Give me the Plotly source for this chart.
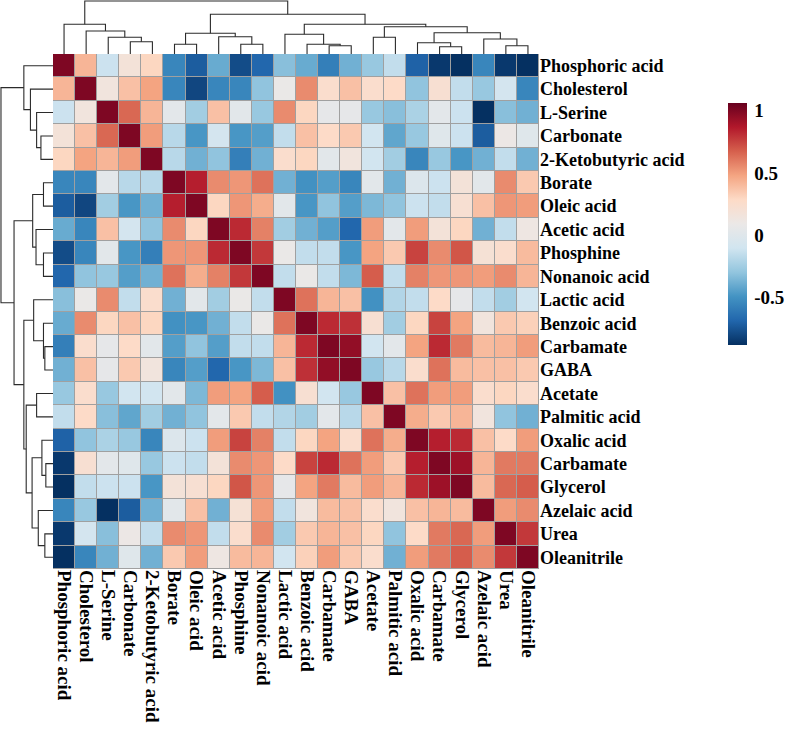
import numpy as np
import plotly.graph_objects as go

# ----------------------------------------------------
# Data
# ----------------------------------------------------
labels = [
    "Phosphoric acid", "Cholesterol", "L-Serine", "Carbonate", "2-Ketobutyric acid",
    "Borate", "Oleic acid", "Acetic acid", "Phosphine", "Nonanoic acid",
    "Lactic acid", "Benzoic acid", "Carbamate", "GABA", "Acetate",
    "Palmitic acid", "Oxalic acid", "Carbamate", "Glycerol", "Azelaic acid",
    "Urea", "Oleanitrile",
]

# upper triangle of the correlation matrix, row by row (diagonal included)
upper = [
    [1.0, 0.42, -0.12, 0.18, 0.3, -0.55, -0.72, -0.4, -0.78, -0.68, -0.32, -0.4, -0.58, -0.38, -0.28, -0.15, -0.7, -0.85, -0.93, -0.55, -0.85, -0.88],
    [1.0, 0.15, 0.38, 0.48, -0.55, -0.8, -0.55, -0.55, -0.3, 0.08, 0.55, 0.25, 0.38, 0.25, 0.28, -0.3, 0.22, -0.15, -0.28, -0.08, -0.55],
    [1.0, 0.65, 0.42, 0.03, -0.25, 0.38, 0.02, -0.28, 0.55, 0.3, 0.05, 0.05, -0.28, -0.32, -0.22, 0.03, -0.12, -0.92, -0.32, -0.38],
    [1.0, 0.5, -0.18, -0.48, -0.08, -0.48, -0.45, -0.15, 0.38, 0.28, 0.35, -0.1, -0.42, -0.28, 0.0, -0.12, -0.72, 0.1, 0.0],
    [1.0, -0.18, -0.38, -0.3, -0.58, -0.38, 0.25, 0.3, 0.02, 0.15, -0.1, -0.25, -0.55, -0.28, -0.48, -0.38, -0.15, -0.38],
    [1.0, 0.85, 0.55, 0.52, 0.62, -0.38, -0.5, -0.45, -0.55, 0.02, -0.38, -0.02, -0.12, 0.18, 0.02, 0.55, 0.35],
    [1.0, 0.3, 0.52, 0.45, 0.02, -0.48, -0.3, -0.45, -0.35, -0.3, -0.12, -0.15, 0.22, 0.38, 0.52, 0.5],
    [1.0, 0.82, 0.58, -0.25, -0.38, -0.45, -0.68, 0.5, 0.03, 0.5, 0.18, 0.3, -0.38, -0.15, 0.12],
    [1.0, 0.78, 0.08, -0.15, -0.15, -0.48, 0.48, 0.35, 0.75, 0.55, 0.7, 0.2, 0.25, 0.4],
    [1.0, -0.15, 0.08, -0.15, -0.35, 0.68, -0.15, 0.58, 0.52, 0.52, 0.5, 0.55, 0.42],
    [1.0, 0.62, 0.42, 0.38, -0.5, -0.2, -0.15, 0.28, 0.05, -0.15, -0.25, -0.1],
    [1.0, 0.82, 0.8, 0.22, -0.25, 0.3, 0.75, 0.48, 0.15, 0.35, 0.32],
    [1.0, 0.95, -0.1, 0.03, 0.48, 0.82, 0.6, 0.4, 0.42, 0.5],
    [1.0, -0.28, -0.18, 0.25, 0.62, 0.4, 0.38, 0.38, 0.35],
    [1.0, 0.38, 0.62, 0.5, 0.5, 0.25, 0.3, 0.25],
    [1.0, 0.45, 0.35, 0.42, 0.15, -0.3, -0.38],
    [1.0, 0.85, 0.82, 0.38, 0.28, 0.5],
    [1.0, 0.92, 0.42, 0.6, 0.6],
    [1.0, 0.4, 0.65, 0.68],
    [1.0, 0.5, 0.55],
    [1.0, 0.78],
    [1.0],
]

# hierarchical clustering merges (scipy style: leaf ids 0..21, merge k -> id 22+k)
merge_left = [3, 2, 1, 0, 5, 8, 7, 26, 12, 11, 10, 14, 17, 16, 20, 19, 35, 33, 32, 29, 25]
merge_right = [4, 22, 23, 24, 6, 9, 27, 28, 13, 30, 31, 15, 18, 34, 21, 36, 37, 38, 39, 40, 41]
merge_height = [12.3, 16.7, 23.0, 29.7, 9.7, 9.7, 17.3, 20.7, 8.3, 9.7, 19.7, 16.7, 7.3, 11.3, 8.3, 15.0, 21.3, 27.3, 29.7, 39.7, 53.0]

n = len(labels)
z = np.zeros((n, n))
for i, row in enumerate(upper):
    for k, v in enumerate(row):
        z[i, i + k] = v
        z[i + k, i] = v

# ----------------------------------------------------
# Dendrogram segments
# ----------------------------------------------------
def dendro_segments():
    pos = {i: float(i) for i in range(n)}
    hgt = {i: 0.0 for i in range(n)}
    a, b = [], []
    for k, (l, r, h) in enumerate(zip(merge_left, merge_right, merge_height)):
        a += [pos[l], pos[l], pos[r], pos[r], None]
        b += [hgt[l], h, h, hgt[r], None]
        pos[n + k] = (pos[l] + pos[r]) / 2
        hgt[n + k] = h
    return a, b

seg_pos, seg_h = dendro_segments()

W, H = 787, 730
hm_x0, hm_x1 = 53, 539
hm_y0, hm_y1 = 54, 569

colors = ["#053061", "#2166ac", "#4393c3", "#92c5de", "#d1e5f0", "#ebe8e7",
          "#fddbc7", "#f4a582", "#d6604d", "#b2182b", "#67001f"]
cscale = [[i / 10, c] for i, c in enumerate(colors)]

font_row = dict(family="Liberation Serif", size=18, color="black", weight="bold")
font_col = dict(family="Liberation Serif", size=19, color="black", weight="bold")

fig = go.Figure()

fig.add_trace(go.Heatmap(
    z=z, x=list(range(n)), y=list(range(n)),
    colorscale=cscale, zmin=-0.88, zmax=1.06,
    xgap=1, ygap=1,
    colorbar=dict(
        x=728 / W, xanchor="left", y=1 - 103 / H, yanchor="top",
        len=242 / H, lenmode="fraction", thickness=19,
        outlinewidth=0, xpad=0, ypad=0,
        tickvals=[-0.5, 0, 0.5, 1], ticktext=["-0.5", "0", "0.5", "1"],
        ticks="outside", ticklen=4, tickcolor="white",
        tickfont=dict(family="Liberation Serif", size=19, color="black", weight="bold"),
    ),
    hoverinfo="skip",
))

# top (column) dendrogram
fig.add_trace(go.Scatter(
    x=seg_pos, y=seg_h, mode="lines", xaxis="x2", yaxis="y2",
    line=dict(color="#2b2b2b", width=1.1), hoverinfo="skip", showlegend=False,
))

# left (row) dendrogram
fig.add_trace(go.Scatter(
    x=seg_h, y=seg_pos, mode="lines", xaxis="x3", yaxis="y3",
    line=dict(color="#2b2b2b", width=1.1), hoverinfo="skip", showlegend=False,
))

# grey cell borders behind the heatmap
fig.add_shape(type="rect", xref="x", yref="y", x0=-0.5, x1=n - 0.5, y0=-0.5, y1=n - 0.5,
              line=dict(color="#a0a0a0", width=1), fillcolor="#a0a0a0", layer="below")

xdom = [hm_x0 / W, hm_x1 / W]
ydom = [1 - hm_y1 / H, 1 - hm_y0 / H]
hidden = dict(showgrid=False, zeroline=False, showticklabels=False, ticks="", showline=False)

fig.update_layout(
    width=W, height=H,
    margin=dict(l=0, r=0, t=0, b=0),
    paper_bgcolor="white", plot_bgcolor="white",
    showlegend=False,
    xaxis=dict(domain=xdom, range=[-0.5, n - 0.5], tickvals=list(range(n)), ticktext=labels,
               tickangle=90, tickfont=font_col, showgrid=False, zeroline=False, ticks=""),
    yaxis=dict(domain=ydom, range=[n - 0.5, -0.5], tickvals=list(range(n)), ticktext=labels,
               side="right", tickfont=font_row, showgrid=False, zeroline=False, ticks=""),
    xaxis2=dict(domain=xdom, range=[-0.5, n - 0.5], anchor="y2", **hidden),
    yaxis2=dict(domain=[1 - hm_y0 / H, 1], range=[0, 54], anchor="x2", **hidden),
    xaxis3=dict(domain=[0, hm_x0 / W], range=[54, 0], anchor="y3", **hidden),
    yaxis3=dict(domain=ydom, range=[n - 0.5, -0.5], anchor="x3", **hidden),
)

# the page's default body margin would push the figure 8 px off the window
fig.write_html(
    "out.html",
    config={"displayModeBar": False},
    post_script="document.body.style.margin='0px';document.body.style.overflow='hidden';",
)
